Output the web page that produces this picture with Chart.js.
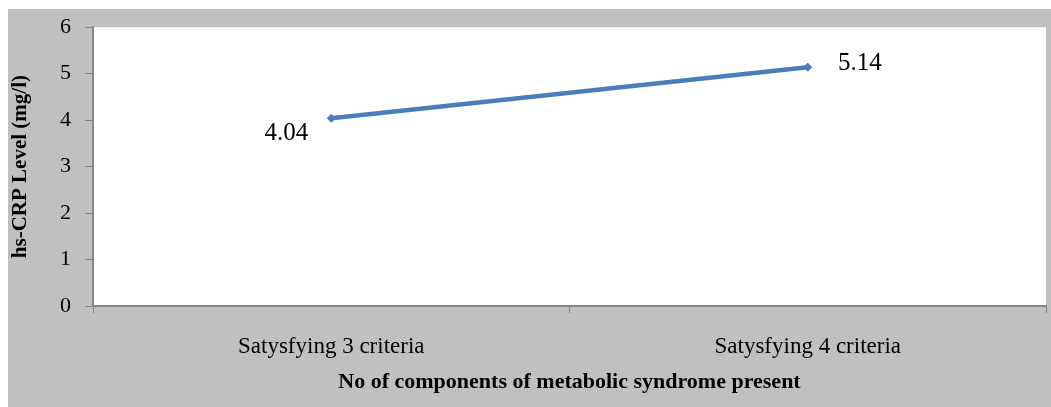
<!DOCTYPE html>
<html>
<head>
<meta charset="utf-8">
<script src="https://cdn.jsdelivr.net/npm/chart.js@4"></script>
<style>
  html, body { margin: 0; padding: 0; background: #fff; }
  #wrap { width: 1051px; height: 407px; position: relative; }
</style>
</head>
<body>
<div id="wrap"><canvas id="myChart" width="1051" height="407"></canvas></div>
<script>
const categories = ['Satysfying 3 criteria', 'Satysfying 4 criteria'];
const crpValues = [4.04, 5.14];
const yTicks = [0, 1, 2, 3, 4, 5, 6];
const xTitle = 'No of components of metabolic syndrome present';
const yTitle = 'hs-CRP Level (mg/l)';

const serif = '"Liberation Serif", "Times New Roman", serif';

// gray frame + white plot area, like the old Excel export
const backdrop = {
    id: 'backdrop',
    beforeDraw(chart) {
        const c = chart.ctx, a = chart.chartArea;
        c.save();
        c.fillStyle = '#c0c0c0';
        c.fillRect(8, 9, chart.width - 8, chart.height - 9);
        c.fillStyle = '#ffffff';
        c.fillRect(a.left, a.top, a.right - a.left, a.bottom - a.top);
        c.restore();
    }
};

const valueLabels = {
    id: 'valueLabels',
    afterDatasetsDraw(chart) {
        const c = chart.ctx;
        const pts = chart.getDatasetMeta(0).data;
        const offs = [[-45, 15], [52, -4]];
        c.save();
        c.font = '25px ' + serif;
        c.fillStyle = '#000';
        c.textAlign = 'center';
        c.textBaseline = 'middle';
        pts.forEach((p, i) => {
            c.fillText(crpValues[i].toFixed(2), p.x + offs[i][0], p.y + offs[i][1]);
        });
        c.restore();
    }
};

const ctx = document.getElementById('myChart').getContext('2d');
new Chart(ctx, {
    type: 'line',
    data: {
        labels: categories,
        datasets: [{
            data: crpValues,
            borderColor: '#4a7ebb',
            backgroundColor: '#4a7ebb',
            borderWidth: 4.5,
            pointStyle: 'rectRot',
            pointRadius: 4,
            pointBorderWidth: 1,
            tension: 0
        }]
    },
    options: {
        responsive: false,
        animation: false,
        layout: { padding: { left: 8, top: 27, right: 1, bottom: 0 } },
        scales: {
            x: {
                offset: true,
                afterFit: s => { s.height = 101; },
                border: { color: '#868686', width: 2 },
                grid: {
                    offset: true,
                    drawOnChartArea: false,
                    drawTicks: true,
                    tickLength: 7,
                    color: '#868686'
                },
                ticks: {
                    color: '#000',
                    padding: 20,
                    font: { family: serif, size: 23 }
                },
                title: {
                    display: true,
                    text: xTitle,
                    color: '#000',
                    padding: { top: 0, bottom: 11 },
                    font: { family: serif, size: 22, weight: 'bold' }
                }
            },
            y: {
                min: 0,
                max: 6,
                afterFit: s => { s.width = 85; },
                afterBuildTicks: s => { s.ticks = yTicks.map(v => ({ value: v })); },
                border: { color: '#868686', width: 2 },
                grid: {
                    drawOnChartArea: false,
                    drawTicks: true,
                    tickLength: 8,
                    color: '#868686'
                },
                ticks: {
                    color: '#000',
                    padding: 14,
                    font: { family: serif, size: 22 }
                },
                title: {
                    display: true,
                    text: yTitle,
                    color: '#000',
                    padding: { top: 0, bottom: 0 },
                    font: { family: serif, size: 21, weight: 'bold' }
                }
            }
        },
        plugins: {
            legend: { display: false },
            tooltip: { enabled: false }
        }
    },
    plugins: [backdrop, valueLabels]
});
</script>
</body>
</html>
